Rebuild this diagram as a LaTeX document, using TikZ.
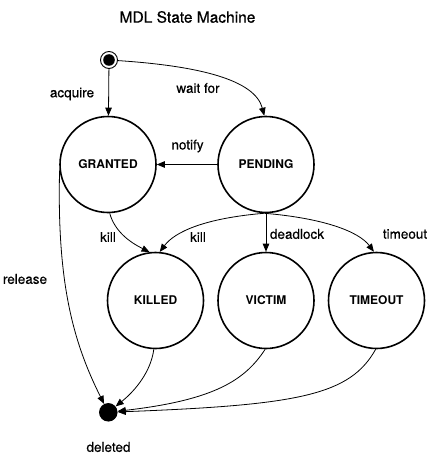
\documentclass[tikz,border=0pt]{standalone}
\usepackage{fontspec}
\setmainfont{TeX Gyre Heros}
\newfontfamily\lblfont{TeX Gyre Heros}[FakeBold=0.5]
\usetikzlibrary{arrows.meta}
\tikzset{
  state/.style={circle, draw, line width=1.6pt, minimum size=96pt, inner sep=0pt,
    font=\fontsize{12}{14}\selectfont\bfseries},
  arr/.style={-{Triangle[length=8pt,width=6.5pt]}, line width=0.8pt},
  lbl/.style={font=\lblfont\fontsize{13.5}{16}\selectfont, inner sep=0pt},
}
\begin{document}
\begin{tikzpicture}[x=1pt,y=-1pt]
\useasboundingbox (0,0) rectangle (431,460);
\node[font=\lblfont\fontsize{15.5}{18}\selectfont] (title) at (187.5,17) {MDL State Machine};
\node (init) [circle, draw, line width=0.9pt, minimum size=17pt, inner sep=0pt] at (109,60) {};
\fill (init.center) circle (5.8pt);
\node[state] (G) at (108,164.5) {GRANTED};
\node[state] (P) at (266,164.5) {PENDING};
\node[state] (K) at (155.5,300.5) {KILLED};
\node[state] (V) at (266,300.5) {VICTIM};
\node[state] (T) at (376.5,300.5) {TIMEOUT};
\node (D) [circle, fill, minimum size=18.5pt, inner sep=0pt] at (108.3,412.3) {};

\draw[arr] (init) -- (G);
\draw[arr] (init) .. controls (200,66) and (255,80) .. (P.92);
\draw[arr] (P) -- (G);
\draw[arr] (G.-88) .. controls +(5,18) and +(-20,-10) .. (K.97);
\draw[arr] (P.-92) .. controls +(-60,5) and +(15,-20) .. (K.85);
\draw[arr] (P) -- (V);
\draw[arr] (P.-92) .. controls +(60,5) and +(-15,-20) .. (T.93);
\draw[arr] (G.187) .. controls (57,280) and (72,340) .. (D);
\draw[arr] (K.-92) .. controls (151,371) and (136,390) .. (D);
\draw[arr] (V.-91) .. controls (245,380) and (215,400) .. (D);
\draw[arr] (T.-91) .. controls (350,395) and (300,405) .. (D);

\node[lbl] (l1) at (72,94) {acquire};
\node[lbl] (l2) at (198,88) {wait for};
\node[lbl] (l3) at (187.5,146) {notify};
\node[lbl] (l4) at (108,237) {kill};
\node[lbl] (l5) at (198,237) {kill};
\node[lbl] (l6) at (297,234) {deadlock};
\node[lbl] (l7) at (405,234) {timeout};
\node[lbl] (l8) at (25,279) {release};
\node[lbl] (l9) at (108.5,447) {deleted};
\end{tikzpicture}
\end{document}
